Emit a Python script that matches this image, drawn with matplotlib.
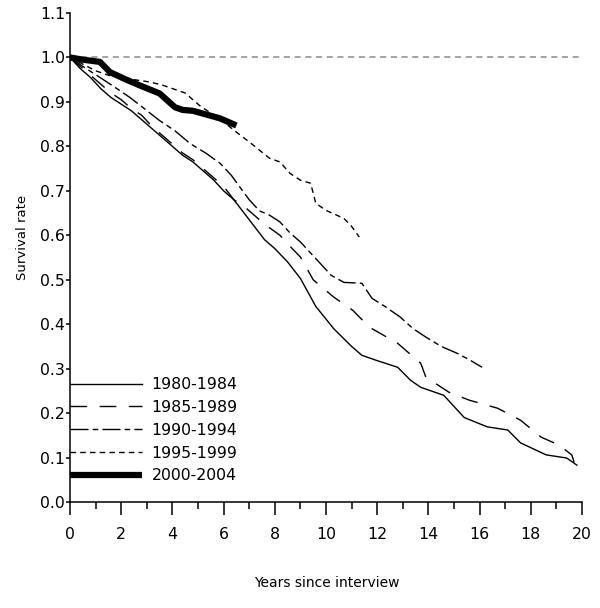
import numpy as np
import matplotlib
matplotlib.use("Agg")
import matplotlib.pyplot as plt

# Kaplan-Meier style survival curves
t_1980 = [0, 0.4, 0.8, 1.2, 1.6, 2.0, 2.4, 2.8, 3.2, 3.6, 4.0, 4.4, 4.8, 5.2, 5.6,
          6.0, 6.4, 6.8, 7.2, 7.6, 8.0, 8.5, 9.0, 9.6, 10.3, 11.0, 11.4, 12.0, 12.8,
          13.3, 13.7, 14.6, 15.4, 16.3, 17.1, 17.6, 18.6, 19.4, 19.8]
s_1980 = [1.0, 0.975, 0.955, 0.93, 0.91, 0.895, 0.88, 0.86, 0.84, 0.82, 0.80, 0.78,
          0.765, 0.745, 0.725, 0.70, 0.68, 0.65, 0.62, 0.59, 0.57, 0.54, 0.503, 0.44,
          0.39, 0.35, 0.33, 0.318, 0.303, 0.274, 0.258, 0.24, 0.19, 0.169, 0.162,
          0.133, 0.106, 0.099, 0.083]

t_1985 = [0, 0.4, 0.8, 1.2, 1.6, 2.0, 2.4, 2.8, 3.2, 3.6, 4.0, 4.4, 4.8, 5.2, 5.6,
          6.0, 6.4, 6.8, 7.2, 7.6, 8.2, 8.6, 9.0, 9.5, 10.3, 11.05, 11.7, 12.8, 13.7,
          13.9, 14.8, 15.6, 16.7, 17.6, 18.4, 19.1, 19.6, 19.7]
s_1985 = [1.0, 0.98, 0.96, 0.94, 0.92, 0.905, 0.885, 0.87, 0.845, 0.825, 0.805,
          0.785, 0.77, 0.75, 0.73, 0.71, 0.68, 0.665, 0.645, 0.625, 0.60, 0.575,
          0.551, 0.50, 0.461, 0.431, 0.393, 0.357, 0.312, 0.281, 0.247, 0.229,
          0.211, 0.184, 0.146, 0.128, 0.106, 0.088]

t_1990 = [0, 0.5, 1.17, 1.7, 2.34, 2.9, 3.5, 4.1, 4.7, 5.3, 5.86, 6.3, 6.64, 7.0,
          7.4, 7.8, 8.2, 8.6, 9.0, 9.4, 9.77, 10.2, 10.7, 11.4, 11.8, 12.3, 12.9,
          13.4, 13.9, 14.5, 15.1, 15.6, 16.1]
s_1990 = [1.0, 0.98, 0.955, 0.935, 0.91, 0.885, 0.858, 0.835, 0.806, 0.785, 0.762,
          0.735, 0.708, 0.68, 0.655, 0.645, 0.63, 0.605, 0.585, 0.56, 0.537, 0.51,
          0.494, 0.492, 0.458, 0.44, 0.416, 0.39, 0.371, 0.35, 0.335, 0.32, 0.303]

t_1995 = [0, 0.5, 1.0, 1.5, 2.0, 2.5, 3.1, 3.6, 4.0, 4.5, 5.1, 5.5, 6.0, 6.5, 7.0,
          7.8, 8.2, 8.6, 9.0, 9.4, 9.6, 10.0, 10.7, 11.0, 11.3]
s_1995 = [1.0, 0.985, 0.97, 0.96, 0.955, 0.95, 0.945, 0.938, 0.93, 0.92, 0.89,
          0.875, 0.855, 0.832, 0.81, 0.773, 0.765, 0.739, 0.724, 0.717, 0.672,
          0.656, 0.638, 0.62, 0.596]

t_2000 = [0, 0.5, 1.17, 1.56, 2.2, 2.73, 3.5, 4.1, 4.4, 4.8, 5.3, 5.86, 6.5]
s_2000 = [1.0, 0.995, 0.99, 0.967, 0.95, 0.937, 0.919, 0.888, 0.882, 0.88, 0.872,
          0.863, 0.847]

labels = ["1980-1984", "1985-1989", "1990-1994", "1995-1999", "2000-2004"]

plt.rcParams['font.family'] = ['DejaVu Sans']

fig = plt.figure(figsize=(6.0, 6.08), dpi=100)
ax = fig.add_axes([70/600, 106/608, 512/600, 489/608])

# reference line at 1.0
ax.axhline(1.0, color="#8a8a8a", lw=1.1, ls=(0, (4, 3)), zorder=1)

ax.plot(t_1980, s_1980, color="black", lw=1.0, ls="-", label=labels[0])
ax.plot(t_1985, s_1985, color="black", lw=1.0, ls=(0, (12, 9)), label=labels[1])
ax.plot(t_1990, s_1990, color="black", lw=1.0, ls=(0, (13, 3, 4, 3)), label=labels[2])
ax.plot(t_1995, s_1995, color="black", lw=1.0, ls=(0, (4, 3)), label=labels[3])
ax.plot(t_2000, s_2000, color="black", lw=4.5, ls="-", solid_capstyle="butt", label=labels[4])

ax.set_xlim(0, 20)
ax.set_ylim(0, 1.1)

ax.spines['top'].set_visible(False)
ax.spines['right'].set_visible(False)
ax.spines['left'].set_linewidth(1.1)
ax.spines['bottom'].set_linewidth(1.1)

ax.set_xticks(np.arange(0, 21, 2))
ax.set_xticks(np.arange(0, 21, 1), minor=True)
ax.set_yticks(np.arange(0, 1.11, 0.1))
ax.set_yticklabels(["{:.1f}".format(v) for v in np.arange(0, 1.11, 0.1)])

ax.tick_params(axis='x', which='major', direction='out', length=9, width=1.1, pad=9, labelsize=11.3)
ax.tick_params(axis='x', which='minor', direction='out', length=5, width=1.1)
ax.tick_params(axis='y', which='major', direction='out', length=3, width=1.1, pad=0.5, labelsize=11.3)

ax.set_xlabel("Years since interview", fontsize=10)
ax.xaxis.set_label_coords(0.502, -0.152)
ax.set_ylabel("Survival rate", fontsize=9.5)
ax.yaxis.set_label_coords(-0.08, 0.542)

leg = ax.legend(loc="lower left", bbox_to_anchor=(0, 0.038), frameon=False,
                borderaxespad=0, borderpad=0, handlelength=4.6, handletextpad=0.6,
                labelspacing=0.5, fontsize=11.3)

fig.savefig("out.png", dpi=100, facecolor="white")
